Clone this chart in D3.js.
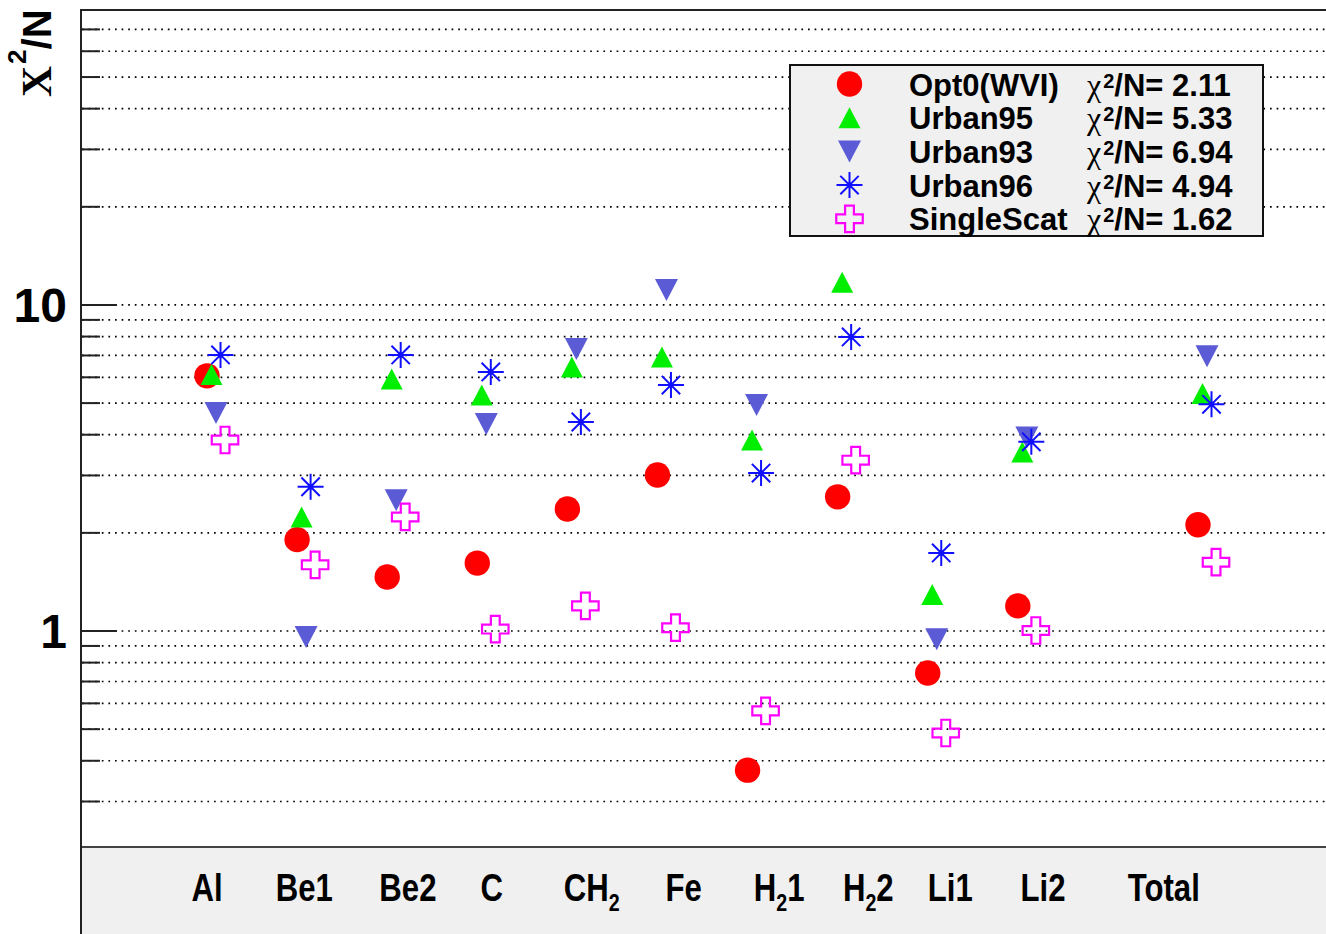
<!DOCTYPE html>
<html>
<head>
<meta charset="utf-8">
<script src="https://cdn.jsdelivr.net/npm/d3@7"></script>
<style>
  html, body { margin: 0; padding: 0; background: #ffffff; }
  svg { display: block; }
  text { font-family: "Liberation Sans", Arial, sans-serif; font-weight: bold; fill: #000; }
</style>
</head>
<body>
<svg id="chart" width="1326" height="934"></svg>
<script>
// ---- data -------------------------------------------------------------
// Target names ("_{x}" marks a subscript), their bin along the x axis and
// where each name is written underneath.
const categories = ["Al", "Be1", "Be2", "C", "CH_{2}", "Fe", "H_{2}1", "H_{2}2", "Li1", "Li2", "Total"];
const binOf      = [1, 2, 3, 4, 5, 6, 7, 8, 9, 10, 12];
const labelAt    = [1.0, 2.08, 3.23, 4.16, 5.27, 6.29, 7.35, 8.34, 9.25, 10.28, 11.62];

// chi^2/N of each scattering model per target (null = not shown)
const opt0       = [6.04, 1.90, 1.46, 1.61, 2.36, 3.00, 0.373, 2.57, 0.741, 1.19, 2.11];
const urban95    = [6.10, 2.23, 5.91, 5.28, 6.43, 6.90, 3.84, 11.7, 1.29, 3.53, 5.33];
const urban93    = [4.65, 0.955, 2.51, 4.30, 7.30, 11.08, 4.92, null, 0.94, 3.91, 6.94];
const urban96    = [7.00, 2.76, 7.00, 6.21, 4.36, 5.66, 3.04, 7.95, 1.73, 3.79, 4.94];
const singleScat = [3.84, 1.59, 2.23, 1.01, 1.19, 1.02, 0.567, 3.33, 0.485, 1.00, 1.62];

const seriesNames = ["Opt0(WVI)", "Urban95", "Urban93", "Urban96", "SingleScat"];
const chiPerN     = ["2.11", "5.33", "6.94", "4.94", "1.62"];
const yTickLabels = [1, 10];

// ---- layout -----------------------------------------------------------
const W = 1326, H = 934;
const frame = { left: 82, top: 10, bottom: 847, right: W };

const svg = d3.select("#chart");

const y = d3.scaleLog().domain([0.2168, 80]).range([frame.bottom, frame.top]);
const x = d3.scaleLinear().domain([1, 12]).range([207, 1198]);

// x-axis label band
svg.append("rect")
  .attr("x", frame.left).attr("y", frame.bottom)
  .attr("width", W - frame.left).attr("height", H - frame.bottom)
  .attr("fill", "#f0f0f0");

// dotted grid on every log tick
const gridTicks = y.ticks().filter(v => v > y.domain()[0] && v < y.domain()[1]);
svg.append("g")
  .attr("transform", `translate(${frame.left},0)`)
  .call(d3.axisRight(y).tickValues(gridTicks).tickSize(W - frame.left).tickFormat(""))
  .call(g => g.select(".domain").remove())
  .call(g => g.selectAll(".tick line")
    .attr("stroke", "#000").attr("stroke-width", 1.7)
    .attr("stroke-dasharray", "1.7 4.9"));

// minor ticks
svg.append("g")
  .attr("transform", `translate(${frame.left},0)`)
  .call(d3.axisRight(y).tickValues(gridTicks.filter(v => !yTickLabels.includes(v)))
    .tickSize(18).tickFormat(""))
  .call(g => g.select(".domain").remove())
  .call(g => g.selectAll(".tick line").attr("stroke", "#222").attr("stroke-width", 2));

// major ticks with labels
svg.append("g")
  .attr("transform", `translate(${frame.left},0)`)
  .call(d3.axisLeft(y).tickValues(yTickLabels).tickSizeInner(-35).tickSizeOuter(0)
    .tickPadding(15).tickFormat(d3.format("d")))
  .call(g => g.select(".domain").remove())
  .call(g => g.selectAll(".tick line").attr("stroke", "#222").attr("stroke-width", 2))
  .call(g => g.selectAll(".tick text")
    .attr("font-size", 48).attr("font-weight", "bold").attr("fill", "#000")
    .attr("font-family", "Liberation Sans, Arial, sans-serif")
    .attr("dy", "0.36em"));

// frame lines
svg.append("line").attr("x1", frame.left).attr("x2", W)
  .attr("y1", frame.top).attr("y2", frame.top)
  .attr("stroke", "#222").attr("stroke-width", 2);
svg.append("line").attr("x1", frame.left).attr("x2", W)
  .attr("y1", frame.bottom).attr("y2", frame.bottom)
  .attr("stroke", "#444").attr("stroke-width", 2.2);
svg.append("line").attr("x1", frame.left - 1).attr("x2", frame.left - 1)
  .attr("y1", frame.top - 1).attr("y2", H)
  .attr("stroke", "#222").attr("stroke-width", 2);

// y-axis title
const yTitle = svg.append("text")
  .attr("transform", "translate(51,97) rotate(-90)")
  .attr("font-size", 40);
yTitle.append("tspan").text("Χ")
  .attr("font-family", "Liberation Serif, serif").attr("font-size", 43);
yTitle.append("tspan").text("2").attr("font-size", 26).attr("dx", 2).attr("dy", -25);
yTitle.append("tspan").text("/N").attr("dy", 25);

// category labels (with subscripts)
function addRich(textSel, str, subSize, subDrop) {
  const parts = str.split(/(_\{[^}]*\})/).filter(s => s.length);
  let lowered = false;
  parts.forEach(p => {
    const m = p.match(/^_\{(.*)\}$/);
    if (m) {
      textSel.append("tspan").text(m[1]).attr("font-size", subSize).attr("dy", subDrop);
      lowered = true;
    } else {
      const t = textSel.append("tspan").text(p);
      if (lowered) { t.attr("dy", -subDrop); lowered = false; }
    }
  });
}
categories.forEach((c, i) => {
  const t = svg.append("text")
    .attr("transform", `translate(${x(labelAt[i])},901) scale(0.82,1)`)
    .attr("text-anchor", "middle")
    .attr("font-size", 38);
  addRich(t, c, 24, 10);
});

// ---- markers ----------------------------------------------------------
const trianglePath = (w, h, up) => up
  ? `M0,${-h / 2}L${w / 2},${h / 2}L${-w / 2},${h / 2}Z`
  : `M0,${h / 2}L${w / 2},${-h / 2}L${-w / 2},${-h / 2}Z`;
const starPath = (r) => {
  let p = "";
  for (let k = 0; k < 4; k++) {
    const a = k * Math.PI / 4;
    const dx = r * Math.cos(a), dy = r * Math.sin(a);
    p += `M${-dx},${-dy}L${dx},${dy}`;
  }
  return p;
};
const crossPath = d3.symbol(d3.symbolCross, 390)();

const markers = [
  { values: opt0, draw: g => g.append("circle").attr("r", 12.7).attr("fill", "#ff0000") },
  { values: urban95, draw: g => g.append("path").attr("d", trianglePath(22, 21, true)).attr("fill", "#00ee00") },
  { values: urban93, draw: g => g.append("path").attr("d", trianglePath(23, 22, false)).attr("fill", "#5b5bd6") },
  { values: urban96, draw: g => {
      g.append("path").attr("d", starPath(13)).attr("stroke", "#1010ff").attr("stroke-width", 2).attr("fill", "none");
      g.append("circle").attr("r", 2.6).attr("fill", "#1010ff");
    } },
  { values: singleScat, draw: g => g.append("path").attr("d", crossPath)
      .attr("fill", "none").attr("stroke", "#ff00ff").attr("stroke-width", 2.2) }
];

const binStep = 0.05;
markers.forEach((m, s) => {
  m.values.forEach((v, i) => {
    if (v == null) return;
    const g = svg.append("g")
      .attr("transform", `translate(${x(binOf[i] + s * binStep)},${y(v)})`);
    m.draw(g);
  });
});

// ---- legend -----------------------------------------------------------
const leg = { x: 790, y: 65, w: 473, h: 171 };
svg.append("rect")
  .attr("x", leg.x).attr("y", leg.y).attr("width", leg.w).attr("height", leg.h)
  .attr("fill", "#f0f0f0").attr("stroke", "#111").attr("stroke-width", 2);

seriesNames.forEach((name, i) => {
  const cy = 84 + 33.7 * i;
  const g = svg.append("g").attr("transform", `translate(849.5,${cy})`);
  markers[i].draw(g);
  svg.append("text").attr("x", 909).attr("y", cy + 11.5)
    .attr("font-size", 31).text(name);
  const t = svg.append("text").attr("x", 1087).attr("y", cy + 11.5).attr("font-size", 30);
  t.append("tspan").text("χ").attr("font-family", "Liberation Serif, serif")
    .attr("font-weight", "normal").attr("font-size", 32);
  t.append("tspan").text("2").attr("font-size", 20).attr("dx", 2).attr("dy", -8);
  t.append("tspan").text("/N= " + chiPerN[i]).attr("font-size", 31).attr("dy", 8);
});
</script>
</body>
</html>
